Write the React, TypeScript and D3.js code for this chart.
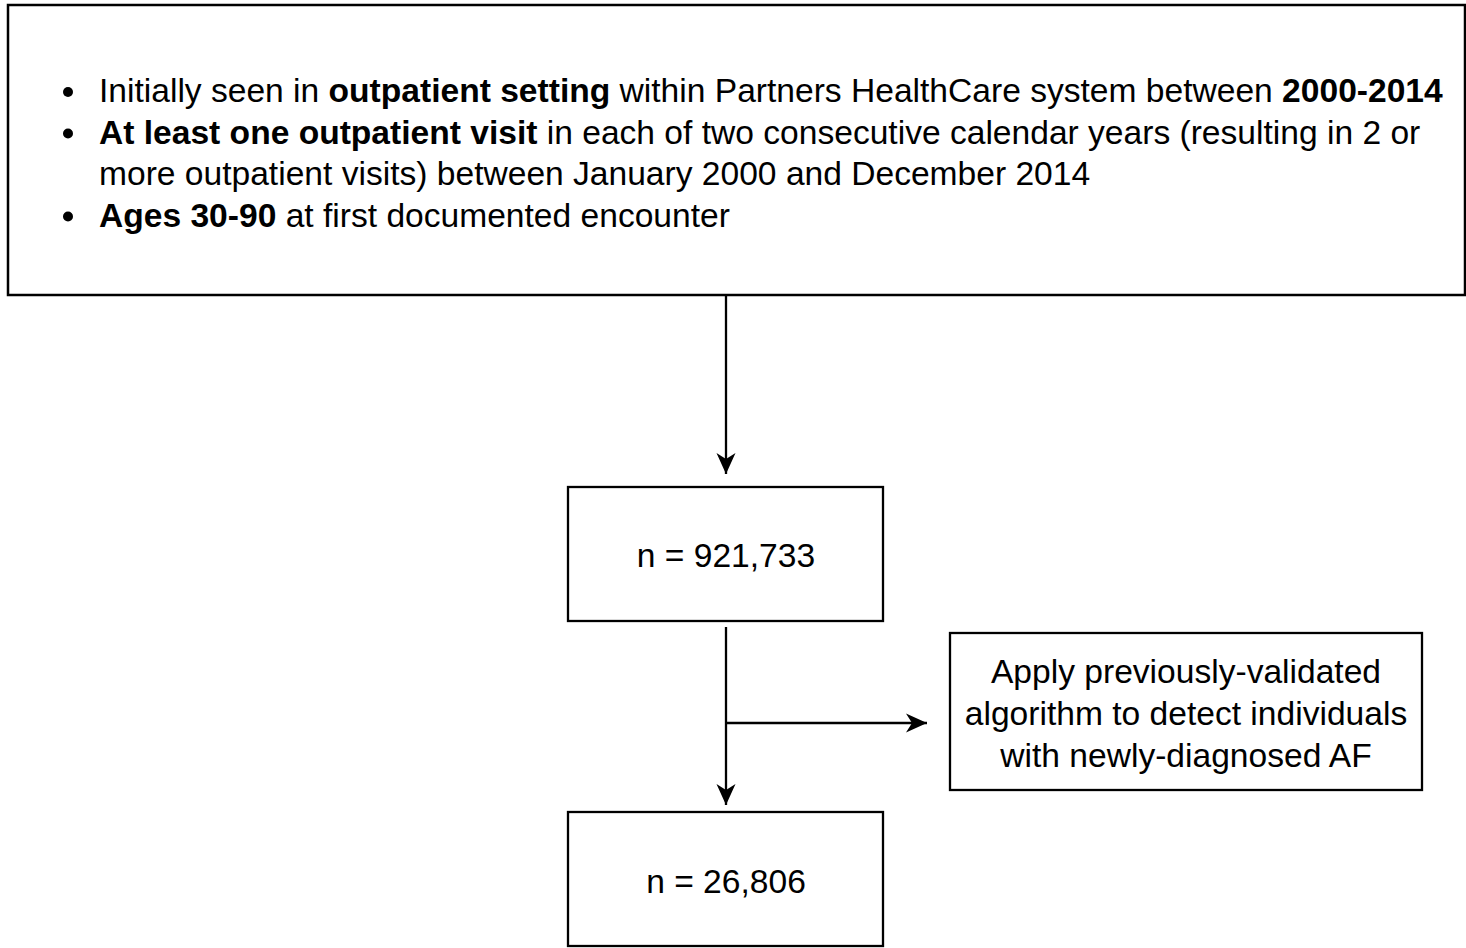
import React from 'react';
import * as d3 from 'd3';

// Inclusion criteria, one entry per rendered line: [text, bold?]
const criteriaLines: { bullet: boolean; runs: [string, boolean][] }[] = [
  { bullet: true, runs: [['Initially seen in ', false], ['outpatient setting', true], [' within Partners HealthCare system between ', false], ['2000-2014', true]] },
  { bullet: true, runs: [['At least one outpatient visit', true], [' in each of two consecutive calendar years (resulting in 2 or', false]] },
  { bullet: false, runs: [['more outpatient visits) between January 2000 and December 2014', false]] },
  { bullet: true, runs: [['Ages 30-90', true], [' at first documented encounter', false]] },
];

const countLabels = ['n = 921,733', 'n = 26,806'];
const sideLabels = ['Apply previously-validated', 'algorithm to detect individuals', 'with newly-diagnosed AF'];

const W = 1466;
const H = 948;
const FONT = '"Liberation Sans", Arial, Helvetica, sans-serif';
const FS = 33.6;

const Arrow: React.FC<{ pts: [number, number][]; dir: 'down' | 'right' }> = ({ pts, dir }) => {
  const line = d3.line();
  const [tx, ty] = pts[pts.length - 1];
  const head = dir === 'down'
    ? `M${tx},${ty} L${tx - 9.5},${ty - 21} L${tx},${ty - 15} L${tx + 9.5},${ty - 21} Z`
    : `M${tx},${ty} L${tx - 21},${ty - 9.5} L${tx - 15},${ty} L${tx - 21},${ty + 9.5} Z`;
  return (
    <g>
      <path d={line(pts) || ''} fill="none" stroke="#000" strokeWidth={2.3} />
      <path d={head} fill="#000" />
    </g>
  );
};

export default function App() {
  const lineY = d3.scaleLinear().domain([0, 1]).range([102, 143.5]);
  const sideY = d3.scaleLinear().domain([0, 1]).range([683, 725]);
  return (
    <svg width={W} height={H} style={{ position: 'absolute', left: 0, top: 0, background: '#fff' }} fontFamily={FONT}>
      <rect x={0} y={0} width={W} height={H} fill="#fff" />
      {/* criteria box */}
      <rect x={8} y={5} width={1457} height={290} fill="#fff" stroke="#000" strokeWidth={2.5} />
      {criteriaLines.map((l, i) => (
        <g key={i}>
          {l.bullet && <circle cx={68} cy={lineY(i) - 10} r={5} fill="#000" />}
          <text x={99} y={lineY(i)} fontSize={FS} fill="#000">
            {l.runs.map(([t, b], j) => (
              <tspan key={j} fontWeight={b ? 'bold' : 'normal'}>{t}</tspan>
            ))}
          </text>
        </g>
      ))}

      <Arrow pts={[[726, 296], [726, 474]]} dir="down" />

      {/* first count box */}
      <rect x={568} y={487} width={315} height={134} fill="#fff" stroke="#000" strokeWidth={2.3} />
      <text x={726} y={567} fontSize={FS} textAnchor="middle">{countLabels[0]}</text>

      <Arrow pts={[[726, 627], [726, 805]]} dir="down" />
      <Arrow pts={[[726, 723], [927, 723]]} dir="right" />

      {/* exclusion box */}
      <rect x={950} y={633} width={472} height={157} fill="#fff" stroke="#000" strokeWidth={2.3} />
      {sideLabels.map((t, i) => (
        <text key={i} x={1186} y={sideY(i)} fontSize={FS} textAnchor="middle">{t}</text>
      ))}

      {/* final count box */}
      <rect x={568} y={812} width={315} height={134} fill="#fff" stroke="#000" strokeWidth={2.3} />
      <text x={726} y={893} fontSize={FS} textAnchor="middle">{countLabels[1]}</text>
    </svg>
  );
}
